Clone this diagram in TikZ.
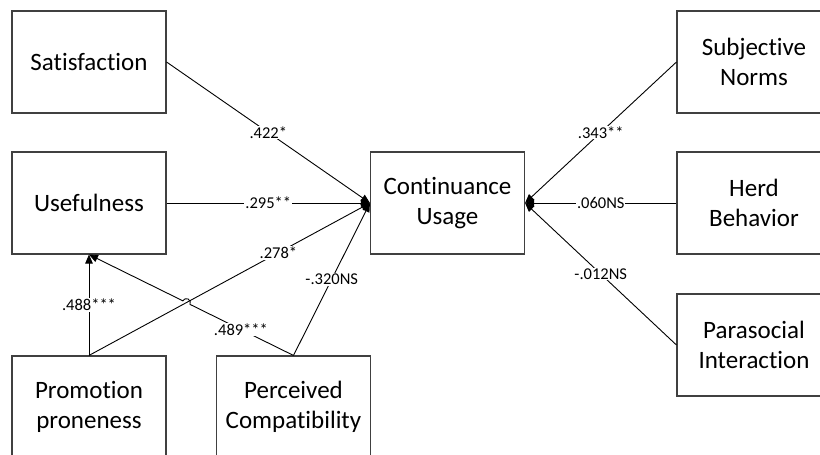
\documentclass[tikz,border=0pt]{standalone}
\usepackage{fontspec}
\setmainfont{Carlito}[Ligatures={NoCommon,NoRare,NoDiscretionary},Contextuals=NoAlternate]
\usetikzlibrary{arrows.meta,calc}
\begin{document}
\begin{tikzpicture}[x=1pt,y=1pt,
  box/.style={draw=black!75, line width=1.1pt, fill=white, minimum width=154pt, minimum height=102pt, align=center, font=\fontsize{25}{30}\selectfont, inner sep=0pt},
  lbl/.style={fill=white, inner sep=1pt, font=\fontsize{16.5}{18}\selectfont},
  conn/.style={line width=0.9pt, -{Triangle[length=9pt,width=7.5pt]}}]
\useasboundingbox (0,0) rectangle (820,-455);
\clip (0,0) rectangle (820,-455);
\node[box] (sat) at (89,-62) {Satisfaction};
\node[box] (use) at (89,-203) {Usefulness};
\node[box] (pp) at (89,-407) {Promotion\\proneness};
\node[box] (pc) at (293.5,-407) {Perceived\\Compatibility};
\node[box] (cu) at (447.5,-203) {Continuance\\Usage};
\node[box] (sn) at (754,-62) {Subjective\\Norms};
\node[box] (hb) at (754,-203) {Herd\\Behavior};
\node[box] (pi) at (754,-345) {Parasocial\\Interaction};

\draw[conn] (sat.east) -- node[lbl]{.422*} (cu.west);
\draw[conn] (use.east) -- node[lbl]{.295**} (cu.west);
\draw[conn] (pp.north) -- node[lbl,pos=0.674]{.278*} (cu.west);
\draw[conn] (pc.north) -- node[lbl]{-.320NS} (cu.west);
\draw[conn] (pp.north) -- node[lbl]{.488***} (use.south);

\coordinate (X) at (intersection of pc.north--use.south and pp.north--cu.west);
\coordinate (S) at ($(X)!4pt!(pc.north)$);
\coordinate (E) at ($(X)!4pt!(use.south)$);
\draw[conn] (pc.north) -- (S) arc[start angle=-26.5, end angle=153.5, radius=4pt] -- (use.south);
\node[lbl] (l489) at ($(pc.north)!0.257!(use.south)$) {.489***};

\draw[conn] (sn.west) -- node[lbl]{.343**} (cu.east);
\draw[conn] (hb.west) -- node[lbl]{.060NS} (cu.east);
\draw[conn] (pi.west) -- node[lbl]{-.012NS} (cu.east);
\end{tikzpicture}
\end{document}
